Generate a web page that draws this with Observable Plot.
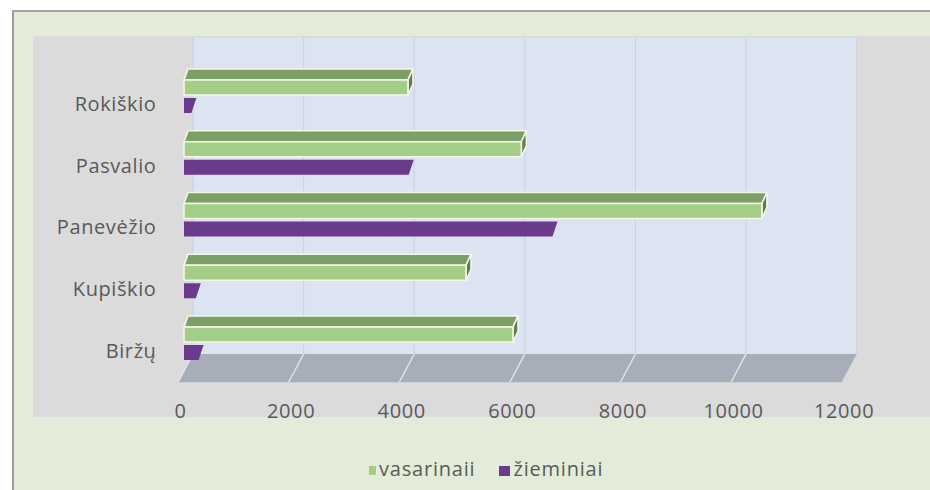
<!DOCTYPE html>
<html>
<head>
<meta charset="utf-8">
<script src="https://cdn.jsdelivr.net/npm/d3@7"></script>
<script src="https://cdn.jsdelivr.net/npm/@observablehq/plot@0.6"></script>
<style>
  body { margin: 0; background: #ffffff; font-family: "Open Sans", sans-serif; }
  #wrap { position: relative; width: 930px; height: 490px; overflow: hidden; }
  #box { position: absolute; left: 12px; top: 10px; width: 930px; height: 490px; background: #e3ecd8; border-left: 2px solid #9a9a9a; border-top: 2px solid #a3a3a3; }
  #plotbg { position: absolute; left: 33px; top: 36px; width: 897px; height: 381px; background: #dbdbdb; }
  #chart { position: absolute; left: 0; top: 0; }
  #chart svg text { letter-spacing: 0.6px; }
  #legend { position: absolute; top: 455px; left: 369px; display: flex; align-items: center; font-size: 20px; letter-spacing: 0.8px; color: #5a5a5a; white-space: nowrap; }
  .sw { display: inline-block; margin-right: 3px; }
</style>
</head>
<body>
<div id="wrap">
  <div id="box"></div>
  <div id="plotbg"></div>
  <div id="chart"></div>
  <div id="legend"></div>
</div>
<script>
// ---- data ----
const categories = ["Biržų", "Kupiškio", "Panevėžio", "Pasvalio", "Rokiškio"]; // bottom -> top
const vasarinai = [5950, 5100, 10450, 6100, 4050];
const ziemiai   = [300, 250, 6700, 4100, 170];
const xTicks = [0, 2000, 4000, 6000, 8000, 10000, 12000];
const seriesNames = ["vasarinaii", "žieminiai"];
const seriesColors = ["#a4cd88", "#6b3a8d"];

const rows = categories.map((c, i) => ({cat: c, idx: i, v: vasarinai[i], z: ziemiai[i]}));

// 3D layout offsets (pixels) and band positions (in category units)
const BACK = 9, FRONT = -6, DEPTH = 5;
const FLOOR_BACK = -0.05, FLOOR_FRONT = -0.506, WALL_TOP = 5.07;

function floorWall(index, scales) {
  const {x, y} = scales;
  const g = d3.create("svg:g");
  const x0 = x(xTicks[0]), x1 = x(xTicks[xTicks.length - 1]);
  const yb = y(FLOOR_BACK), yf = y(FLOOR_FRONT), yt = y(WALL_TOP);
  g.append("rect").attr("x", x0 + BACK).attr("y", yt).attr("width", x1 - x0).attr("height", yb - yt).attr("fill", "#dce3f1");
  for (const t of xTicks) {
    g.append("line").attr("x1", x(t) + BACK).attr("x2", x(t) + BACK).attr("y1", yt).attr("y2", yb)
      .attr("stroke", "#c9d0df").attr("stroke-width", 1);
  }
  g.append("path")
    .attr("d", `M${x0 + FRONT},${yf}L${x1 + FRONT},${yf}L${x1 + BACK},${yb}L${x0 + BACK},${yb}Z`)
    .attr("fill", "#a7aeb9");
  for (const t of xTicks.slice(0, -1)) {
    g.append("line").attr("x1", x(t) + FRONT).attr("y1", yf).attr("x2", x(t) + BACK).attr("y2", yb)
      .attr("stroke", "#e4e7ec").attr("stroke-width", 1.3);
  }
  return g.node();
}

function greenBars(index, scales) {
  const {x, y} = scales;
  const g = d3.create("svg:g").attr("stroke", "#f3f7e6").attr("stroke-width", 1.6).attr("stroke-linejoin", "round");
  for (const d of rows) {
    const x0 = x(0), xv = x(d.v);
    const yTT = y(d.idx + 0.567), yTB = y(d.idx + 0.389), yFB = y(d.idx + 0.146);
    g.append("path").attr("d", `M${x0},${yTB}L${xv},${yTB}L${xv + DEPTH},${yTT}L${x0 + DEPTH - 1},${yTT}Z`).attr("fill", "#7b9f66");
    g.append("path").attr("d", `M${xv},${yTB}L${xv + DEPTH},${yTT}L${xv + DEPTH},${yFB - (yTB - yTT)}L${xv},${yFB}Z`).attr("fill", "#5f7d4f");
    g.append("rect").attr("x", x0).attr("y", yTB).attr("width", xv - x0).attr("height", yFB - yTB).attr("fill", seriesColors[0]);
  }
  return g.node();
}

function purpleBars(index, scales) {
  const {x, y} = scales;
  const g = d3.create("svg:g");
  for (const d of rows) {
    const x0 = x(0), xv = x(d.z);
    const yT = y(d.idx + 0.097), yB = y(d.idx - 0.146);
    g.append("path").attr("d", `M${x0},${yT}L${xv + 3},${yT}L${xv - 2},${yB}L${x0},${yB}Z`)
      .attr("fill", seriesColors[1]);
  }
  return g.node();
}

const chart = Plot.plot({
  width: 930,
  height: 490,
  marginLeft: 184,
  marginRight: 82,
  marginTop: 0,
  marginBottom: 90,
  style: {background: "transparent", fontFamily: "'Open Sans', sans-serif", fontSize: "20px", color: "#595959", overflow: "visible"},
  x: {domain: [0, 12000], range: [184, 847.6]},
  y: {domain: [0, 4], range: [351, 104]},
  marks: [
    floorWall,
    greenBars,
    purpleBars,
    Plot.axisY({ticks: rows.map(d => d.idx), tickFormat: i => categories[i], tickSize: 0, tickPadding: 28, label: null}),
    Plot.axisX({ticks: xTicks, tickFormat: d3.format("d"), tickSize: 0, tickPadding: 3, dx: -4, label: null})
  ]
});
document.getElementById("chart").appendChild(chart);

// legend
const legend = document.getElementById("legend");
const swSizes = [[7, 9], [11, 10]];
seriesNames.forEach((name, i) => {
  const item = document.createElement("span");
  item.style.display = "inline-flex";
  item.style.alignItems = "center";
  item.style.marginRight = i === 0 ? "24px" : "0";
  const sw = document.createElement("span");
  sw.className = "sw";
  sw.style.width = swSizes[i][0] + "px";
  sw.style.height = swSizes[i][1] + "px";
  sw.style.background = seriesColors[i];
  sw.style.marginTop = "4px";
  item.appendChild(sw);
  const t = document.createElement("span");
  t.textContent = name;
  item.appendChild(t);
  legend.appendChild(item);
});
</script>
</body>
</html>
